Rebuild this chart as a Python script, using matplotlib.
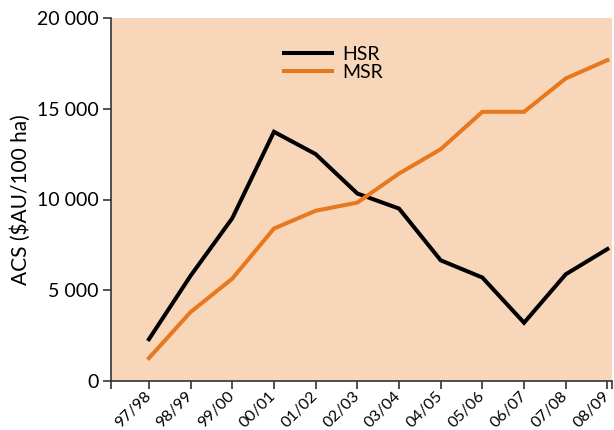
import matplotlib
matplotlib.use("Agg")
import matplotlib.pyplot as plt

seasons = ["97/98", "98/99", "99/00", "00/01", "01/02", "02/03",
           "03/04", "04/05", "05/06", "06/07", "07/08", "08/09"]
hsr = [2300, 5800, 8970, 13730, 12500, 10330, 9500, 6650, 5700, 3210, 5880, 7270]
msr = [1260, 3800, 5640, 8400, 9380, 9830, 11430, 12770, 14830, 14830, 16670, 17680]
yticks = [0, 5000, 10000, 15000, 20000]
yticklabels = ["0", "5 000", "10 000", "15 000", "20 000"]

plt.rcParams['font.family'] = ['Lato', 'DejaVu Sans']

fig = plt.figure(figsize=(6.14, 4.30), dpi=100)
ax = fig.add_axes([111/614, 1-381/430, (612-111)/614, (381-18)/430])
ax.set_facecolor("#F8D6B9")

x = list(range(len(seasons)))
ax.plot(x, hsr, color="black", lw=2.9, label="HSR", solid_joinstyle="miter")
ax.plot(x, msr, color="#E8781E", lw=2.9, label="MSR", solid_joinstyle="miter")

ax.set_xlim(-0.91, 11.11)
ax.set_ylim(0, 20000)
ax.set_yticks(yticks)
ax.set_yticklabels(yticklabels, fontsize=14)
ax.set_xticks(list(x) + [-0.91, 11.11])
ax.set_xticklabels(seasons + ["", ""], rotation=45, ha="right", va="center",
                   rotation_mode="anchor", fontsize=11.5)
ax.tick_params(axis="both", direction="out", length=6, width=1.2, color="#333333", pad=3)
ax.tick_params(axis="x", pad=3)

for s in ["top", "right"]:
    ax.spines[s].set_visible(False)
for s in ["left", "bottom"]:
    ax.spines[s].set_color("#333333")
    ax.spines[s].set_linewidth(1.2)

ax.set_ylabel("ACS ($AU/100 ha)", fontsize=15, labelpad=4)

ax.legend(loc="upper left", bbox_to_anchor=((276-111)/501, 1-(38-18)/363),
          frameon=False, fontsize=14, handlelength=2.5, handletextpad=0.5,
          labelspacing=0.05, borderaxespad=0)

fig.savefig("out.png", dpi=100)
